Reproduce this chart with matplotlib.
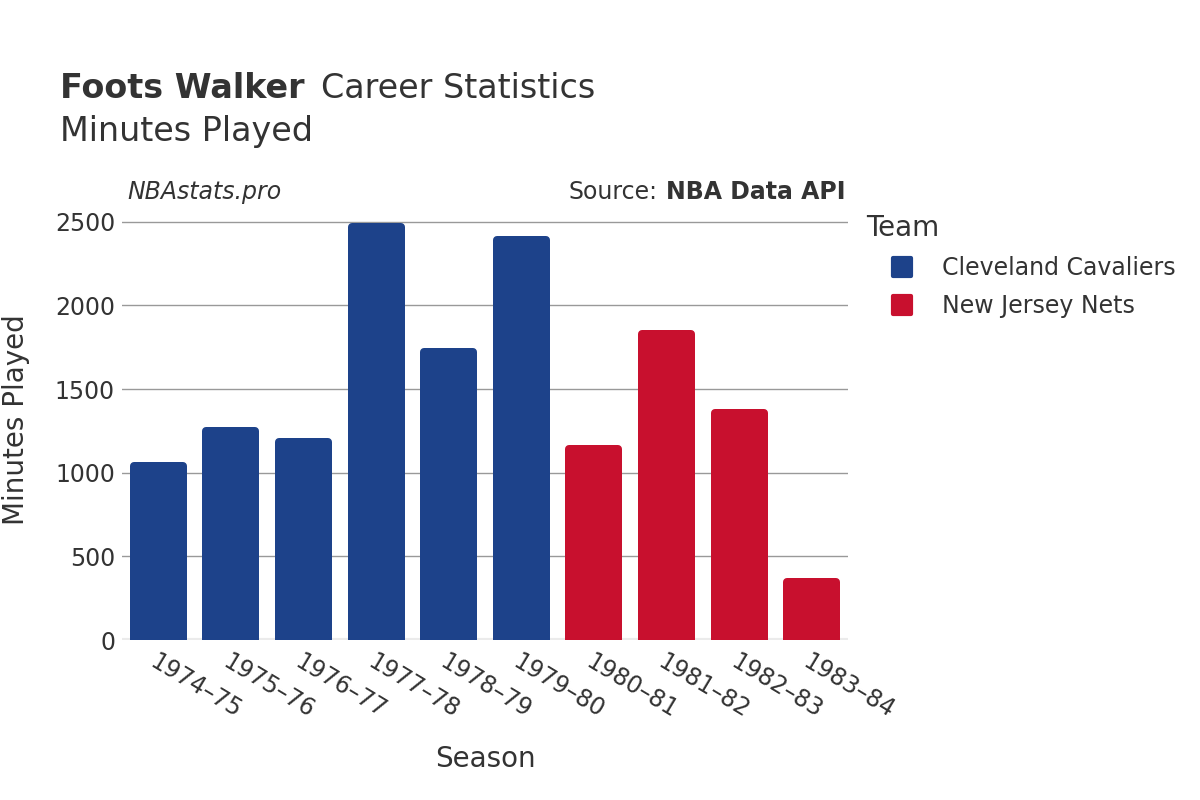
import matplotlib.pyplot as plt
from matplotlib.lines import Line2D
from matplotlib.markers import MarkerStyle

seasons = ['1974–75', '1975–76', '1976–77', '1977–78', '1978–79',
           '1979–80', '1980–81', '1981–82', '1982–83', '1983–84']
minutes = [1061, 1271, 1207, 2490, 1745, 2416, 1165, 1855, 1381, 368]
teams = ['Cleveland Cavaliers'] * 6 + ['New Jersey Nets'] * 4
team_colors = {'Cleveland Cavaliers': '#1D428A', 'New Jersey Nets': '#C8102E'}

plt.rcParams['font.family'] = ['DejaVu Sans']
text_col = '#333333'

fig = plt.figure(figsize=(12, 8), dpi=100)
ax = fig.add_axes([122 / 1200, 1 - 640 / 800, (848 - 122) / 1200, (640 - 207) / 800])

ymax = 2588
ax.set_xlim(-0.5, len(seasons) - 0.5)
ax.set_ylim(0, ymax)

# bars shrunk by r px, then outlined with a round-joined edge of 2r px -> rounded corners
r = 4
px_x = (848 - 122) / len(seasons)
px_y = (640 - 207) / ymax
w = 0.786 - 2 * r / px_x
colors = [team_colors[t] for t in teams]
heights = [m - r / px_y + 300 for m in minutes]
ax.bar(range(len(seasons)), heights, width=w, bottom=-300, color=colors,
       edgecolor=colors, linewidth=2 * r * 72 / 100, joinstyle='round', zorder=3)

ax.set_yticks([0, 500, 1000, 1500, 2000, 2500])
ax.grid(axis='y', color='#999999', linewidth=1, zorder=0)
ax.axhline(0, color='#ebebeb', linewidth=3, zorder=2)
for s in ax.spines.values():
    s.set_visible(False)
ax.tick_params(axis='both', length=0, labelsize=17, labelcolor=text_col)
ax.tick_params(axis='y', pad=5)
ax.set_xticks(range(len(seasons)))
ax.set_xticklabels(seasons, rotation=-31, ha='left', rotation_mode='anchor')
ax.tick_params(axis='x', pad=7)

ax.set_xlabel('Season', fontsize=20, color=text_col, labelpad=16)
ax.set_ylabel('Minutes Played', fontsize=20, color=text_col)
ax.yaxis.set_label_coords(-0.127, 0.51)

fig.text(60 / 1200, 1 - 88 / 800, 'Foots Walker', fontsize=24, fontweight='bold',
         color=text_col, va='center')
fig.text(321 / 1200, 1 - 88 / 800, 'Career Statistics', fontsize=24,
         color=text_col, va='center')
fig.text(60 / 1200, 1 - 132 / 800, 'Minutes Played', fontsize=24,
         color=text_col, va='center')

fig.text(127 / 1200, 1 - 192 / 800, 'NBAstats.pro', fontsize=17, style='italic',
         color=text_col, va='center')
src = fig.text(845 / 1200, 1 - 192 / 800, 'NBA Data API', fontsize=17, fontweight='bold',
               color=text_col, va='center', ha='right')
fig.canvas.draw()
bb = src.get_window_extent()
fig.text((bb.x0 - 8) / 1200, 1 - 192 / 800, 'Source:', fontsize=17,
         color=text_col, va='center', ha='right')

handles = [Line2D([], [], marker=MarkerStyle('s', joinstyle='round'), linestyle='none',
                  markersize=13, markeredgewidth=3,
                  markerfacecolor=team_colors[k], markeredgecolor=team_colors[k])
           for k in team_colors]
leg = fig.legend(handles, list(team_colors), title='Team', loc='upper left',
                 bbox_to_anchor=(857 / 1200, 1 - 205 / 800), frameon=False,
                 fontsize=17, title_fontsize=20, labelcolor=text_col,
                 handlelength=3.0, handletextpad=0.2, labelspacing=0.58,
                 borderaxespad=0, borderpad=0.4)
leg.get_title().set_color(text_col)
leg._legend_box.align = 'left'

fig.savefig('out.png', dpi=100, facecolor='white')
